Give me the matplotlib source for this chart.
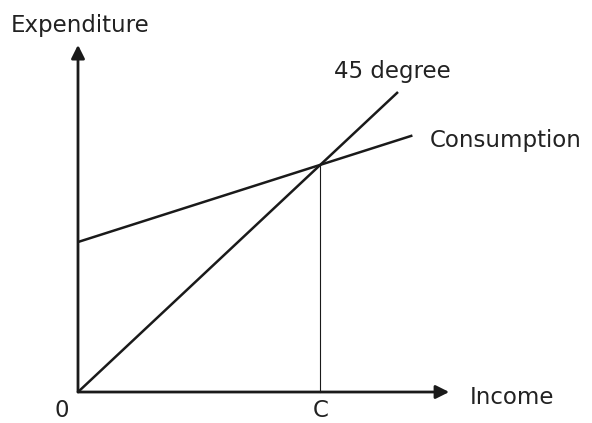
import matplotlib
matplotlib.use("Agg")
import matplotlib.pyplot as plt

# Keynesian cross: income (x) vs expenditure (y), arbitrary units
line45_x = [0, 10]
line45_y = [0, 10]
cons_x = [0, 10.45]
cons_y = [5.0, 8.55]
c_income = 7.57         # where consumption meets the 45 degree line
axis_end_x = 11.6
axis_end_y = 11.57

fig = plt.figure(figsize=(5.92, 4.23), dpi=100)
ax = fig.add_axes([0, 0, 1, 1])
ax.set_xlim(-2.4375, 16.0625)
ax.set_ylim(-1.033, 13.067)
ax.axis("off")

arrow = dict(arrowstyle="-|>", color="#1a1a1a", lw=2.0, mutation_scale=20,
             shrinkA=0, shrinkB=0)
ax.annotate("", xy=(axis_end_x, 0), xytext=(0, 0), arrowprops=arrow)
ax.annotate("", xy=(0, axis_end_y), xytext=(0, 0), arrowprops=arrow)

ax.plot(line45_x, line45_y, color="#1a1a1a", lw=1.8, solid_capstyle="butt")
ax.plot(cons_x, cons_y, color="#1a1a1a", lw=1.8, solid_capstyle="butt")
ax.plot([c_income, c_income], [0, c_income], color="#1a1a1a", lw=0.8)

fs = 16.5
tc = "#222222"
ax.text(-2.1, 12.23, "Expenditure", fontsize=fs, color=tc, va="center", ha="left")
ax.text(8.0, 10.67, "45 degree", fontsize=fs, color=tc, va="center", ha="left")
ax.text(11.0, 8.4, "Consumption", fontsize=fs, color=tc, va="center", ha="left")
ax.text(12.25, -0.17, "Income", fontsize=fs, color=tc, va="center", ha="left")
ax.text(-0.5, -0.6, "0", fontsize=fs, color=tc, va="center", ha="center")
ax.text(c_income, -0.6, "C", fontsize=fs, color=tc, va="center", ha="center")

fig.savefig("out.png", dpi=100)
